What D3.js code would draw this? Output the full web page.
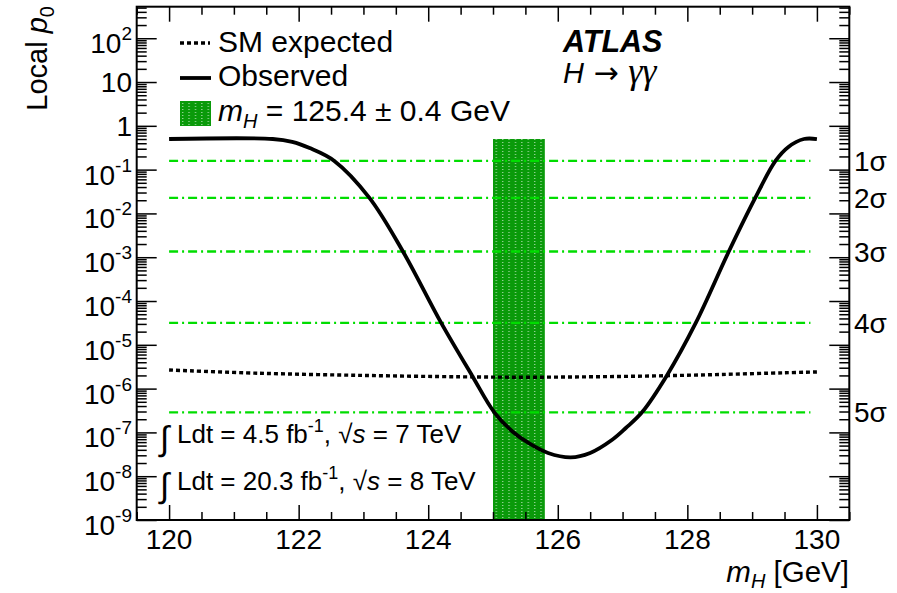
<!DOCTYPE html>
<meta charset="utf-8">
<style>
body { margin: 0; background: #fff; }
text { font-family: "Liberation Sans", Arial, Helvetica, sans-serif; fill: #000; }
.axis path, .axis line { stroke: #000; stroke-width: 1.5px; }
</style>
<svg width="897" height="593"></svg>
<script src="https://d3js.org/d3.v7.min.js"></script>
<script>

// observed local p0 vs mH
var obsMass = [120, 121.6, 121.9, 122.17, 122.55, 123.09, 123.61, 124.2, 124.68, 125.02, 125.3, 125.56, 125.85, 126.2, 126.5, 126.84, 127.05, 127.3, 127.68, 128.13, 128.64, 129.05, 129.36, 129.56, 129.8, 130];
var obsP    = [0.5, 0.5, 0.43, 0.31, 0.158, 0.0229, 1.35e-3, 3.16e-5, 1.95e-6, 2.88e-7, 1.05e-7, 5.6e-8, 3.4e-8, 2.7e-8, 3.4e-8, 6.8e-8, 1.26e-7, 2.88e-7, 1.95e-6, 3.16e-5, 1.35e-3, 0.0229, 0.158, 0.33, 0.5, 0.5];

// SM expected
var expMass = [120, 121.4, 123, 124.5, 125.5, 126.5, 127.5, 128.5, 129.5, 130];
var expP    = [2.66e-6, 2.24e-6, 2.0e-6, 1.86e-6, 1.82e-6, 1.86e-6, 1.95e-6, 2.1e-6, 2.3e-6, 2.4e-6];

var sigmaLabels = ["1σ", "2σ", "3σ", "4σ", "5σ"];
var sigmaP = [0.1587, 0.02275, 0.00135, 3.17e-5, 2.87e-7];

var bandMass = [125.0, 125.8];   // mH = 125.4 +- 0.4
var bandTopP = 0.5;

var xMajor = [120, 122, 124, 126, 128, 130];
var yExp = [2, 1, 0, -1, -2, -3, -4, -5, -6, -7, -8, -9];

var svg = d3.select("svg");
var L = 136.7, R = 849.3, T = 6.7, B = 520;

var x = d3.scaleLinear().domain([119.5, 130.5]).range([L, R]);
var y = d3.scaleLog().domain([1e-9, Math.pow(10, 2.72)]).range([B, T]);

// band pattern
var defs = svg.append("defs");
var pat = defs.append("pattern")
    .attr("id", "band")
    .attr("patternUnits", "userSpaceOnUse")
    .attr("width", 6.4).attr("height", 3);
pat.append("rect").attr("width", 6.4).attr("height", 3).attr("fill", "#0a9a0a");
pat.append("rect").attr("x", 3).attr("y", 1).attr("width", 1).attr("height", 1)
    .attr("fill", "#fff").attr("opacity", 0.8);

// band
svg.append("rect")
    .attr("x", x(bandMass[0]))
    .attr("width", x(bandMass[1]) - x(bandMass[0]))
    .attr("y", y(bandTopP))
    .attr("height", B - y(bandTopP))
    .attr("fill", "url(#band)");

// sigma lines
svg.append("g").selectAll("line")
    .data(sigmaP)
    .enter().append("line")
      .attr("x1", x(120)).attr("x2", x(129.9))
      .attr("y1", function(d) { return y(d); })
      .attr("y2", function(d) { return y(d); })
      .attr("stroke", "#00dd00")
      .attr("stroke-width", 2.3)
      .attr("stroke-dasharray", "9,4,2,4");

svg.append("g").selectAll("text")
    .data(sigmaP)
    .enter().append("text")
      .attr("x", 854)
      .attr("y", function(d) { return y(d) + 10; })
      .attr("font-size", 28)
      .text(function(d, i) { return sigmaLabels[i]; });

var line = d3.line()
    .x(function(d) { return x(d[0]); })
    .y(function(d) { return y(d[1]); })
    .curve(d3.curveCatmullRom.alpha(0.5));

svg.append("path")
    .datum(d3.zip(expMass, expP))
    .attr("d", line)
    .attr("fill", "none")
    .attr("stroke", "#000")
    .attr("stroke-width", 3.4)
    .attr("stroke-dasharray", "4,3");

svg.append("path")
    .datum(d3.zip(obsMass, obsP))
    .attr("d", line)
    .attr("fill", "none")
    .attr("stroke", "#000")
    .attr("stroke-width", 3.8);

// axes
var xMinor = d3.range(119.5, 130.51, 0.5).filter(function(d) { return xMajor.indexOf(d) < 0; });
var yMinor = [];
yExp.forEach(function(e) {
  for (var k = 2; k <= 9; k++) {
    var v = k * Math.pow(10, e - 1);
    if (v > 1e-9 && v < y.domain()[1]) yMinor.push(v);
  }
});
for (var k = 2; k <= 5; k++) yMinor.push(k * 100);
var yMajor = yExp.map(function(e) { return Math.pow(10, e); });

function ax(gen, tx, ty) {
  svg.append("g").attr("class", "axis")
      .attr("transform", "translate(" + tx + "," + ty + ")")
      .call(gen)
      .call(function(g) { g.select(".domain").remove(); g.selectAll("text").remove(); });
}
ax(d3.axisBottom(x).tickValues(xMajor).tickSize(-15), 0, B);
ax(d3.axisBottom(x).tickValues(xMinor).tickSize(-8), 0, B);
ax(d3.axisTop(x).tickValues(xMajor).tickSize(-15), 0, T);
ax(d3.axisTop(x).tickValues(xMinor).tickSize(-8), 0, T);
ax(d3.axisLeft(y).tickValues(yMajor).tickSize(-20), L, 0);
ax(d3.axisLeft(y).tickValues(yMinor).tickSize(-10), L, 0);
ax(d3.axisRight(y).tickValues(yMajor).tickSize(-20), R, 0);
ax(d3.axisRight(y).tickValues(yMinor).tickSize(-10), R, 0);

svg.append("rect")
    .attr("x", L).attr("y", T).attr("width", R - L).attr("height", B - T)
    .attr("fill", "none").attr("stroke", "#000").attr("stroke-width", 2);

// x tick labels
svg.append("g").selectAll("text")
    .data(xMajor)
    .enter().append("text")
      .attr("x", function(d) { return x(d); })
      .attr("y", 549)
      .attr("text-anchor", "middle")
      .attr("font-size", 28)
      .text(function(d) { return d; });

// y tick labels
var yl = svg.append("g").selectAll("text")
    .data(yExp)
    .enter().append("text")
      .attr("x", 132)
      .attr("y", function(d) { return y(Math.pow(10, d)) + (d === 0 || d === 1 ? 10 : 15); })
      .attr("text-anchor", "end")
      .attr("font-size", 28);
yl.each(function(d) {
  var t = d3.select(this);
  if (d === 0) { t.text("1"); return; }
  t.append("tspan").text("10");
  if (d !== 1) t.append("tspan").attr("font-size", 19).attr("dy", -13).text(d);
});

// axis titles
var xt = svg.append("text").attr("x", 849).attr("y", 582).attr("text-anchor", "end").attr("font-size", 29.5);
xt.append("tspan").attr("font-style", "italic").text("m");
xt.append("tspan").attr("font-style", "italic").attr("font-size", 20).attr("dy", 6).text("H");
xt.append("tspan").attr("dy", -6).text(" [GeV]");

var yt = svg.append("text")
    .attr("transform", "translate(47,6) rotate(-90)")
    .attr("text-anchor", "end")
    .attr("font-size", 29);
yt.append("tspan").text("Local ");
yt.append("tspan").attr("font-style", "italic").text("p");
yt.append("tspan").attr("font-size", 20).attr("dy", 7).text("0");

// legend
svg.append("line").attr("x1", 180).attr("x2", 210).attr("y1", 43).attr("y2", 43)
    .attr("stroke", "#000").attr("stroke-width", 3.4).attr("stroke-dasharray", "4,3");
svg.append("text").attr("x", 218).attr("y", 52).attr("font-size", 30).text("SM expected");
svg.append("line").attr("x1", 180).attr("x2", 211).attr("y1", 78).attr("y2", 78)
    .attr("stroke", "#000").attr("stroke-width", 3.8);
svg.append("text").attr("x", 218).attr("y", 86).attr("font-size", 30).text("Observed");
svg.append("rect").attr("x", 180).attr("y", 101).attr("width", 31).attr("height", 25)
    .attr("fill", "url(#band)");
var lb = svg.append("text").attr("x", 218).attr("y", 121).attr("font-size", 30);
lb.append("tspan").attr("font-style", "italic").text("m");
lb.append("tspan").attr("font-style", "italic").attr("font-size", 20).attr("dy", 7).text("H");
lb.append("tspan").attr("dy", -7).text(" = 125.4 ± 0.4 GeV");

// ATLAS label
svg.append("text").attr("x", 563).attr("y", 52).attr("font-size", 30.5)
    .attr("font-weight", "bold").attr("font-style", "italic").text("ATLAS");
var hg = svg.append("text").attr("x", 563).attr("y", 83).attr("font-size", 29);
hg.append("tspan").attr("font-style", "italic").text("H");
hg.append("tspan").attr("font-family", "DejaVu Sans").attr("font-size", 30).text(" → ");
hg.append("tspan").attr("font-family", "Liberation Serif").attr("font-style", "italic").attr("font-size", 36).text("γγ");

// luminosity
function lumi(yb, lum, rs) {
  svg.append("text").attr("x", 160).attr("y", yb + 7).attr("font-family", "DejaVu Sans")
      .attr("font-size", 34).text("∫");
  var t = svg.append("text").attr("x", 177).attr("y", yb).attr("font-size", 26);
  t.append("tspan").text("Ldt = " + lum + " fb");
  t.append("tspan").attr("font-size", 18).attr("dy", -11).text("-1");
  t.append("tspan").attr("dy", 11).text(", ");
  t.append("tspan").attr("font-weight", "lighter").text("√");
  t.append("tspan").attr("font-style", "italic").text("s");
  t.append("tspan").text(" = " + rs + " TeV");
}
lumi(443, "4.5", "7");
lumi(490, "20.3", "8");

</script>
